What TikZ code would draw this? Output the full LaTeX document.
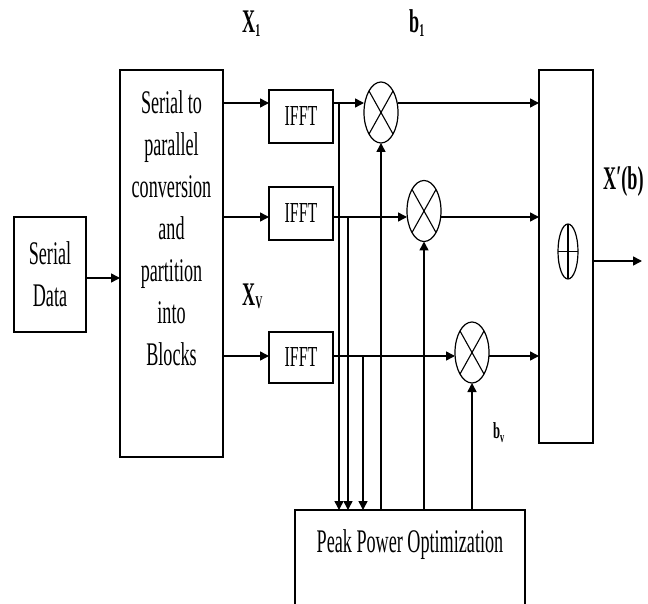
\documentclass[tikz,border=0pt]{standalone}
\usepackage{fontspec}
\setmainfont{Liberation Serif}
\newfontfamily\nar[FakeStretch=0.55]{Liberation Serif}
\usetikzlibrary{arrows.meta,shapes.geometric}
\newcommand\lowsub[2][18]{\raisebox{-4pt}{\fontsize{#1}{#1}\selectfont #2}}
\begin{document}
\begin{tikzpicture}[x=1pt,y=-1pt,
  font=\nar\fontsize{33}{42}\selectfont,
  box/.style={draw, line width=1.7pt, inner sep=0pt, outer sep=0pt},
  ifftbox/.style={box, minimum width=64pt, font=\nar\fontsize{29}{29}\selectfont},
  mult/.style={ellipse, draw, line width=1.2pt, inner sep=0pt, outer sep=0pt,
    minimum width=34pt, minimum height=61pt,
    path picture={\draw[line width=1.1pt]
      (path picture bounding box.north west) -- (path picture bounding box.south east)
      (path picture bounding box.north east) -- (path picture bounding box.south west);}},
  plusop/.style={ellipse, draw, line width=1.2pt, inner sep=0pt, outer sep=0pt,
    minimum width=20pt, minimum height=55pt,
    path picture={\draw[line width=1.4pt]
      (path picture bounding box.north) -- (path picture bounding box.south)
      (path picture bounding box.west) -- (path picture bounding box.east);}},
  arr/.style={line width=1.5pt, -{Triangle[length=9pt,width=9pt]}},
  lbl/.style={anchor=base west, inner sep=0pt, font=\nar\bfseries\fontsize{33}{33}\selectfont}
]
\useasboundingbox (0,0) rectangle (648,604);

% blocks
\node[box, minimum width=72pt, minimum height=115pt, align=center] (sd) at (50,274.5) {Serial\\Data};
\node[box, minimum width=103pt, minimum height=387pt] (sp) at (171.5,263.5) {};
\node[align=center, inner sep=0pt] (sptext) at (171.5,228) {Serial to\\parallel\\conversion\\and\\partition\\into\\Blocks};

\node[ifftbox, minimum height=53pt] (f1) at (301,116.5) {IFFT};
\node[ifftbox, minimum height=53pt] (f2) at (301,213.5) {IFFT};
\node[ifftbox, minimum height=51pt] (f3) at (301,357.5) {IFFT};

\node[mult] (m1) at (381,112.5) {};
\node[mult] (m2) at (424,211) {};
\node[mult] (m3) at (472,352.5) {};

\node[box, minimum width=54pt, minimum height=373pt] (rb) at (566,256.5) {};
\node[plusop] (plus) at (568,251.5) {};

\node[box, minimum width=230pt, minimum height=96pt] (pp) at (410,558) {};
\node[anchor=base, inner sep=0pt] (pptext) at (410,552) {Peak Power Optimization};

% row coordinates
\coordinate (r0) at (0,278);
\coordinate (r1) at (0,103);
\coordinate (r2) at (0,217);
\coordinate (r3) at (0,356);

\draw[arr] (sd.east |- r0) -- (sp.west |- r0);

\draw[arr] (sp.east |- r1) -- (f1.west |- r1);
\draw[arr] (sp.east |- r2) -- (f2.west |- r2);
\draw[arr] (sp.east |- r3) -- (f3.west |- r3);

\draw[arr] (f1.east |- r1) -- (m1.west |- r1);
\draw[arr] (f2.east |- r2) -- (m2.west |- r2);
\draw[arr] (f3.east |- r3) -- (m3.west |- r3);

\draw[arr] (m1.east |- r1) -- (rb.west |- r1);
\draw[arr] (m2.east |- r2) -- (rb.west |- r2);
\draw[arr] (m3.east |- r3) -- (rb.west |- r3);

% taps to optimizer
\coordinate (t1) at (339,103);
\coordinate (t2) at (348,217);
\coordinate (t3) at (363,356);
\draw[arr] (t1) -- (t1 |- pp.north);
\draw[arr] (t2) -- (t2 |- pp.north);
\draw[arr] (t3) -- (t3 |- pp.north);

% phase factors back to multipliers
\draw[arr] (pp.north -| m1.south) -- (m1.south);
\draw[arr] (pp.north -| m2.south) -- (m2.south);
\draw[arr] (pp.north -| m3.south) -- (m3.south);

% output
\coordinate (out) at (642,261);
\draw[arr] (rb.east |- out) -- (out);

% labels
\node[lbl] (lx1) at (242,33) {X\lowsub{1}};
\node[lbl] (lb1) at (409,33) {b\lowsub{1}};
\node[lbl] (lxv) at (242,305) {X\lowsub{V}};
\node[lbl, font=\nar\bfseries\fontsize{23}{23}\selectfont] (lbv) at (493,438) {b\lowsub[15]{v}};
\node[lbl] (lout) at (603,190) {X\raisebox{1pt}{′}(b)};
\end{tikzpicture}
\end{document}
